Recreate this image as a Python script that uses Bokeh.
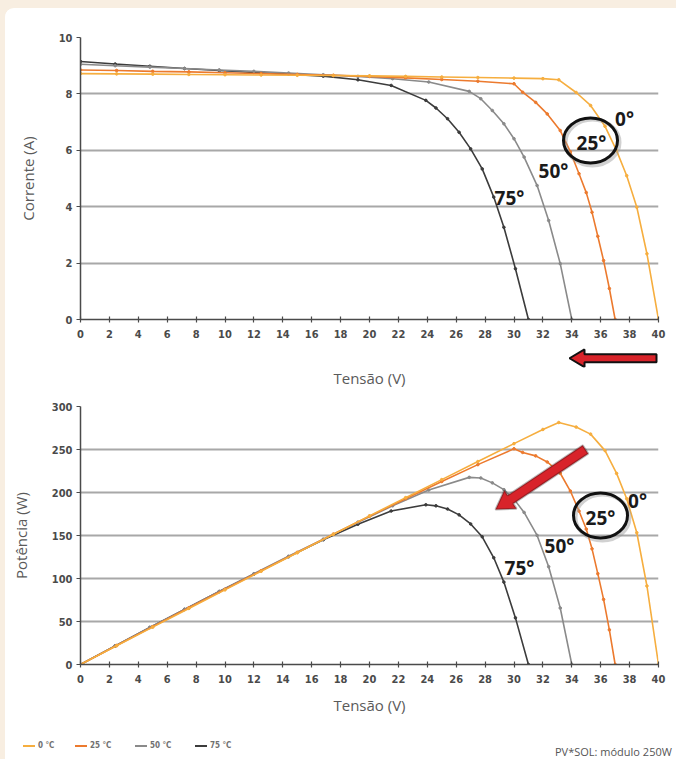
from bokeh.plotting import figure
from bokeh.models import (Range1d, Label, PolyAnnotation, FixedTicker, Div)
from bokeh.layouts import column
from bokeh.embed import file_html
from bokeh.resources import INLINE

# ---------------- data ----------------
x_ticks = list(range(0, 41, 2))
i_ticks = [0, 2, 4, 6, 8, 10]
p_ticks = [0, 50, 100, 150, 200, 250, 300]
series_names = ["0 °C", "25 °C", "50 °C", "75 °C"]

v_0 = [0, 2.5, 5, 7.5, 10, 12.5, 15, 17.5, 20, 22.5, 25, 27.5, 30, 32, 33.1, 34.3,
       35.3, 36.3, 37.1, 37.8, 38.5, 39.2, 40]
i_0 = [8.72, 8.71, 8.70, 8.69, 8.68, 8.67, 8.66, 8.65, 8.64, 8.62, 8.60, 8.58, 8.56,
       8.54, 8.50, 8.05, 7.59, 6.85, 5.99, 5.10, 3.98, 2.33, 0]
p_0 = [0, 21.8, 43.5, 65.2, 86.8, 108.4, 129.9, 151.4, 172.8, 194.0, 215.0, 236.0,
       256.8, 273.3, 281.4, 276.1, 267.9, 248.7, 222.2, 192.8, 153.2, 91.3, 0]

v_25 = [0, 2.5, 5, 7.5, 10, 12.5, 15, 17.5, 20, 22.5, 25, 27.5, 30, 30.6, 31.5, 32.3,
        33.2, 33.9, 34.5, 35.0, 35.4, 35.8, 36.2, 36.6, 37.0]
i_25 = [8.85, 8.83, 8.80, 8.78, 8.75, 8.72, 8.69, 8.66, 8.62, 8.57, 8.51, 8.45, 8.36,
        8.06, 7.70, 7.29, 6.70, 5.95, 5.17, 4.50, 3.80, 2.95, 2.09, 1.10, 0]
p_25 = [0, 22.1, 44.0, 65.9, 87.5, 109.0, 130.4, 151.6, 172.4, 192.8, 212.8, 232.4,
        250.8, 246.6, 242.6, 235.5, 222.4, 201.7, 178.4, 157.5, 134.5, 105.6, 75.7,
        40.3, 0]

v_50 = [0, 2.4, 4.8, 7.2, 9.6, 12, 14.4, 16.8, 19.2, 21.6, 24.1, 26.9, 27.7, 28.5,
        29.3, 30.0, 30.7, 31.6, 32.4, 33.2, 34.0]
i_50 = [9.05, 9.00, 8.95, 8.90, 8.85, 8.80, 8.74, 8.68, 8.62, 8.54, 8.42, 8.09, 7.83,
        7.41, 6.94, 6.41, 5.76, 4.75, 3.51, 1.98, 0]
p_50 = [0, 21.6, 43.0, 64.1, 85.0, 105.6, 125.9, 145.8, 165.5, 184.5, 202.9, 217.6,
        216.9, 211.2, 203.3, 192.3, 176.8, 150.1, 113.7, 65.7, 0]

v_75 = [0, 2.4, 4.8, 7.2, 9.6, 12, 14.4, 16.8, 19.2, 21.5, 23.9, 24.6, 25.4, 26.2,
        27.0, 27.8, 28.6, 29.3, 30.1, 31.0]
i_75 = [9.15, 9.06, 8.98, 8.90, 8.83, 8.76, 8.70, 8.63, 8.50, 8.30, 7.77, 7.50, 7.12,
        6.64, 6.05, 5.34, 4.34, 3.27, 1.80, 0]
p_75 = [0, 21.7, 43.1, 64.1, 84.8, 105.1, 125.3, 145.0, 163.2, 178.5, 185.7, 184.5,
        180.8, 174.0, 163.4, 148.5, 124.1, 95.8, 54.2, 0]

colors = ["#F6AE3F", "#EC7A2E", "#8A8A8A", "#3C3C3C"]
volts = [v_0, v_25, v_50, v_75]
currents = [i_0, i_25, i_50, i_75]
powers = [p_0, p_25, p_50, p_75]

# ---------------- layout constants (page pixels) ----------------
W = 671
ML, MR = 75, 18
FONT = "Open Sans"
TICKFONT = "DejaVu Sans Condensed, Roboto"
ANNOT_FONT = "Noto Sans"
CREAM = "#F8EEE1"

FL = 5 + ML                 # frame left on page
SX = (W - ML - MR) / 40.0   # px per volt

A_H, A_T, A_B = 337, 29, 26     # top chart (page 8..345)
B_H, B_B = 45, 20               # strip with axis title + arrow (345..390)
D_H, D_T, D_B = 337, 16, 63     # power chart (390..727)
C_H = 32                        # legend strip (727..759)

A_FB = 8 + A_H - A_B
SY_A = (A_H - A_T - A_B) / 10.0
D_FB = 8 + A_H + B_H + D_H - D_B
SY_D = (D_H - D_T - D_B) / 300.0


def tx(px):
    return (px - FL) / SX


def ty(py):
    return (A_FB - py) / SY_A


def dy(py):
    return (D_FB - py) / SY_D


def style_axes(p, yticks, ylabel):
    p.outline_line_color = None
    p.background_fill_color = "white"
    p.border_fill_color = "white"
    p.xgrid.visible = False
    p.ygrid.grid_line_color = "#A8A8A8"
    p.ygrid.grid_line_width = 2
    p.ygrid.ticker = FixedTicker(ticks=yticks)
    for ax in (p.xaxis[0], p.yaxis[0]):
        ax.axis_line_color = "#4A4A4A"
        ax.axis_line_width = 1.5
        ax.major_tick_line_color = "#4A4A4A"
        ax.major_tick_line_width = 1.2
        ax.minor_tick_line_color = None
        ax.major_label_text_font = TICKFONT
        ax.major_label_text_font_style = "bold"
        ax.major_label_text_font_size = "11px"
        ax.major_label_text_color = "#4A4A4A"
        ax.axis_label_text_font = FONT
        ax.axis_label_text_font_style = "normal"
        ax.axis_label_text_font_size = "15px"
        ax.axis_label_text_color = "#5A5A5A"
    p.xaxis[0].ticker = FixedTicker(ticks=x_ticks)
    p.xaxis[0].major_tick_in = 3
    p.xaxis[0].major_tick_out = 3
    p.xaxis[0].major_label_standoff = 7
    p.yaxis[0].ticker = FixedTicker(ticks=yticks)
    p.yaxis[0].major_tick_in = 0
    p.yaxis[0].major_tick_out = 4
    p.yaxis[0].major_label_standoff = 4
    p.yaxis[0].axis_label = ylabel
    p.yaxis[0].axis_label_standoff = 18


# ---------------- top: current ----------------
top = figure(width=W, height=A_H, output_backend="svg", toolbar_location=None,
             x_range=Range1d(0, 40), y_range=Range1d(0, 10),
             min_border_left=ML, min_border_right=MR,
             min_border_top=A_T, min_border_bottom=A_B)
style_axes(top, i_ticks, "Corrente (A)")

# strip below the top chart: its x-axis title and the red arrow
strip = figure(width=W, height=B_H, output_backend="svg", toolbar_location=None,
               x_range=Range1d(FL, FL + 40 * SX), y_range=Range1d(345 + B_H - B_B, 345),
               min_border_left=ML, min_border_right=MR, min_border_top=0,
               min_border_bottom=B_B, y_axis_location=None)
strip.outline_line_color = None
strip.grid.visible = False
strip.border_fill_color = "white"
sx_ax = strip.xaxis[0]
sx_ax.ticker = FixedTicker(ticks=[])
sx_ax.axis_line_color = None
sx_ax.major_tick_line_color = None
sx_ax.major_label_text_font_size = "0px"
sx_ax.axis_label = "Tensão (V)"
sx_ax.axis_label_standoff = 0
sx_ax.axis_label_text_font = FONT
sx_ax.axis_label_text_font_style = "normal"
sx_ax.axis_label_text_font_size = "15px"
sx_ax.axis_label_text_color = "#5A5A5A"

# ---------------- bottom: power ----------------
bot = figure(width=W, height=D_H, output_backend="svg", toolbar_location=None,
             x_range=Range1d(0, 40), y_range=Range1d(0, 300),
             min_border_left=ML, min_border_right=MR,
             min_border_top=D_T, min_border_bottom=D_B)
style_axes(bot, p_ticks, "Potência (W)")
bot.xaxis[0].axis_label = "Tensão (V)"
bot.xaxis[0].axis_label_standoff = 9

for k in range(3, -1, -1):
    top.line(volts[k], currents[k], line_color=colors[k], line_width=1.6)
    top.scatter(volts[k], currents[k], size=2.6, color=colors[k])
    bot.line(volts[k], powers[k], line_color=colors[k], line_width=1.6)
    bot.scatter(volts[k], powers[k], size=2.6, color=colors[k])


def annotate(p, fx, fy, items, ell):
    ex, ey = ell
    p.ellipse(x=[fx(ex + 2)], y=[fy(ey + 2)], width=54, height=46,
              width_units="screen", height_units="screen",
              fill_color=None, line_color="#9A9A9A", line_alpha=0.45, line_width=4)
    p.ellipse(x=[fx(ex)], y=[fy(ey)], width=54, height=45,
              width_units="screen", height_units="screen",
              fill_color=None, line_color="#111111", line_width=3)
    for txt, px, py in items:
        p.add_layout(Label(x=fx(px), y=fy(py), text=txt, text_align="center",
                           text_baseline="middle", text_font=ANNOT_FONT,
                           text_font_style="bold", text_font_size="19px",
                           text_color="#1A1A1A"))


annotate(top, tx, ty, [("0°", 624, 118), ("25°", 591, 142), ("50°", 553, 170),
                       ("75°", 509, 197)], (590, 140))
annotate(bot, tx, dy, [("0°", 637, 500), ("25°", 600, 517), ("50°", 559, 545),
                       ("75°", 519, 567)], (600, 515))


def arrow_poly(tail, tip, body=4.5, head=11, head_len=16):
    (x0, y0), (x1, y1) = tail, tip
    ddx, ddy = x1 - x0, y1 - y0
    L = (ddx * ddx + ddy * ddy) ** 0.5
    ux, uy = ddx / L, ddy / L
    nx, ny = -uy, ux
    bx, by_ = x1 - head_len * ux, y1 - head_len * uy
    return [(x1, y1),
            (bx + head * nx, by_ + head * ny),
            (bx + body * nx, by_ + body * ny),
            (x0 + body * nx, y0 + body * ny),
            (x0 - body * nx, y0 - body * ny),
            (bx - body * nx, by_ - body * ny),
            (bx - head * nx, by_ - head * ny)]


pts = arrow_poly((656, 359.5), (569, 359.5), body=4.5, head=10, head_len=15)
strip.patch([a for a, b in pts], [b for a, b in pts], fill_color="#D8232A",
            line_color="#111111", line_width=2)

pts = arrow_poly((585, 449), (495, 509), body=5, head=11, head_len=18)
bot.add_layout(PolyAnnotation(xs=[tx(a) for a, b in pts], ys=[dy(b) for a, b in pts],
                              fill_color="#D8232A", fill_alpha=1,
                              line_color="#111111", line_width=2, level="overlay"))

# ---------------- legend + source line (HTML strip, page-pixel positions) -------
leg_x0 = [23, 75, 135, 195]
parts = ['<div style="position:relative;width:%dpx;height:%dpx;background:white;'
         'overflow:hidden;">' % (W, C_H)]
for name, c, x in zip(series_names, colors, leg_x0):
    parts.append('<span style="position:absolute;left:%dpx;top:18px;width:12px;'
                 'height:0;border-top:2px solid %s;"></span>' % (x - 5, c))
    parts.append('<span style="position:absolute;left:%dpx;top:13px;'
                 'font:bold 8px \'DejaVu Sans Condensed\',Roboto,sans-serif;'
                 'line-height:12px;color:#707070;white-space:nowrap;">%s</span>'
                 % (x + 10, name))
parts.append('<span style="position:absolute;left:550px;top:17px;'
             'font:11px \'Open Sans\',sans-serif;line-height:15px;color:#555555;'
             'white-space:nowrap;">PV*SOL: módulo 250W</span>')
parts.append('</div>')
leg = Div(text="".join(parts), width=W, height=C_H, margin=0)

inner = column(top, strip, bot, leg, margin=(8, 0, 0, 5),
               styles={"background-color": "white",
                       "border-top-left-radius": "9px", "overflow": "hidden"})
page = column(inner, styles={"background-color": CREAM})
open("out.html", "w").write(file_html(page, INLINE))
